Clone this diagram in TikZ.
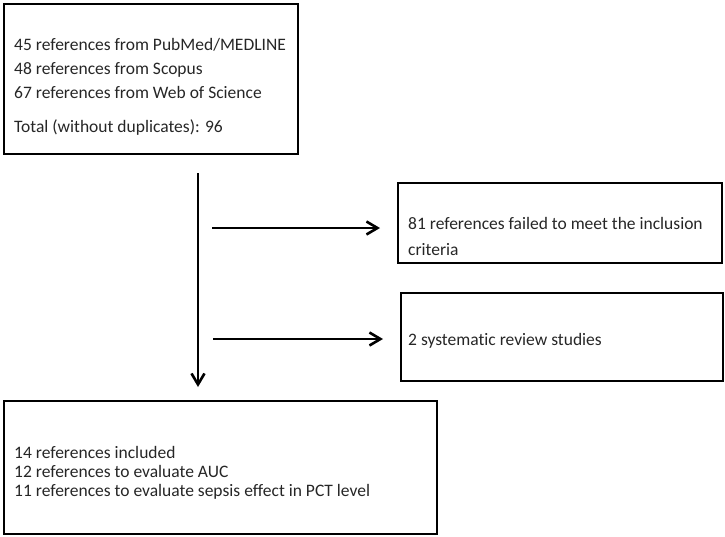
\documentclass[tikz,border=0pt]{standalone}
\usepackage{fontspec}
\setmainfont{Carlito}[Ligatures=NoCommon]
\usepackage[svgnames]{xcolor}
\usetikzlibrary{calc, positioning, arrows.meta}
\tikzset{>={Straight Barb[length=11pt, width=13pt]}}
\tikzset{
  flowbox/.style={draw=black, line width=1.8pt, anchor=north west, inner sep=0pt},
  flowtext/.style={anchor=north west, align=left, inner sep=0pt, text=black!85,
    font=\fontsize{17.5}{24}\selectfont},
  flowarrow/.style={line width=2.6pt, ->}
}

\begin{document}
\begin{tikzpicture}[x=1pt, y=-1pt]
\useasboundingbox (0,0) rectangle (725,536);
% boxes
\node[flowbox, minimum width=294pt, minimum height=150pt] (search) at (3,3) {};
\node[flowbox, minimum width=324pt, minimum height=80pt] (failed) at (397,182) {};
\node[flowbox, minimum width=322pt, minimum height=88pt] (review) at (400,292) {};
\node[flowbox, minimum width=433pt, minimum height=133pt] (included) at (3,400) {};
% texts
\node[flowtext] (searchtxt) at (14,38) {45 references from PubMed/MEDLINE\\
48 references from Scopus\\
67 references from Web of Science\\[10pt]
Total (without duplicates): 96};
\node[flowtext, font=\fontsize{17.5}{26}\selectfont] (failedtxt) at (408,217) {81 references failed to meet the inclusion\\
criteria};
\node[flowtext] (reviewtxt) at (408,333) {2 systematic review studies};
\node[flowtext, font=\fontsize{17.5}{19}\selectfont] (includedtxt) at (14,446) {14 references included\\
12 references to evaluate AUC\\
11 references to evaluate sepsis effect in PCT level};
% connectors
\coordinate (trunk top) at (198,173);
\coordinate (trunk end) at (198,387);
\coordinate (branch1) at (212,228);
\coordinate (branch2) at (213,339);
\path
(trunk top) edge[flowarrow]                    (trunk end)
(branch1)   edge[flowarrow, shorten >=17pt]    (branch1 -| failed.west)
(branch2)   edge[flowarrow, shorten >=17pt]    (branch2 -| review.west);
\end{tikzpicture}
\end{document}
